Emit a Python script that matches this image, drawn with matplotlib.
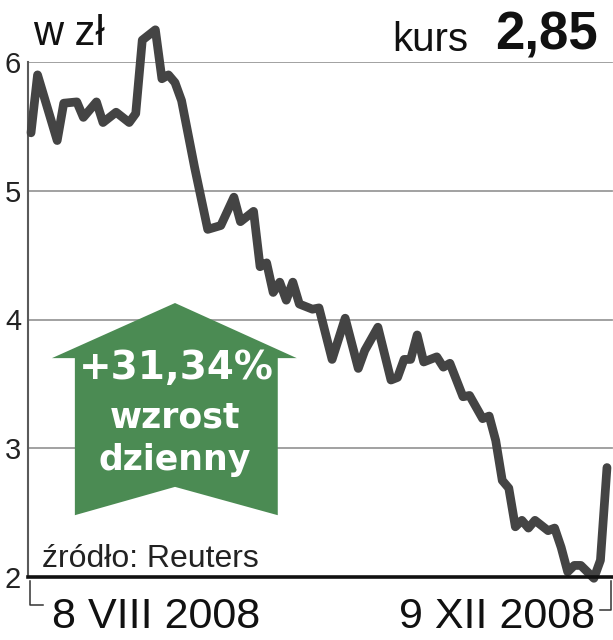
#!/usr/bin/env python3
"""
Kurs akcji 8 VIII - 9 XII 2008, wykres liniowy z zieloną strzałką
"""
import matplotlib
matplotlib.use("Agg")
import matplotlib.pyplot as plt
from matplotlib.patches import Polygon
from matplotlib.lines import Line2D

# sesje od 8 VIII 2008 (indeks dnia) i kurs w zł
days = [0, 1, 4, 5, 7, 8, 10, 11, 13, 15, 16, 17, 19, 20, 21, 22, 23, 25,
        27, 29, 31, 32, 34, 35, 36, 37, 38, 39, 40, 41, 43, 44, 46, 48, 50,
        51, 53, 55, 56, 57, 58, 59, 60, 62, 63, 64, 66, 67, 69, 70, 71, 72,
        73, 74, 75, 76, 77, 79, 80, 81, 82, 83, 84, 86, 87, 88]
price = [5.45, 5.90, 5.39, 5.68, 5.69, 5.57, 5.69, 5.53, 5.61, 5.53, 5.60,
         6.17, 6.25, 5.87, 5.90, 5.84, 5.70, 5.18, 4.70, 4.73, 4.95, 4.76,
         4.84, 4.41, 4.44, 4.21, 4.29, 4.15, 4.29, 4.12, 4.08, 4.09, 3.69,
         4.01, 3.62, 3.76, 3.94, 3.53, 3.55, 3.69, 3.69, 3.88, 3.67, 3.71,
         3.63, 3.66, 3.40, 3.41, 3.23, 3.25, 3.06, 2.75, 2.69, 2.39, 2.44,
         2.38, 2.44, 2.36, 2.38, 2.23, 2.04, 2.09, 2.09, 1.99, 2.13, 2.85]

y_ticks = [2, 3, 4, 5, 6]
y_tick_labels = ["2", "3", "4", "5", "6"]
start_label = "8 VIII 2008"
end_label = "9 XII 2008"
last_price = "2,85"
change_label = "+31,34%"

W, H = 613, 640
LINE = "#444444"
GREEN = "#4b8b53"
GRID = "#9a9a9a"
FONT = "Liberation Sans"


def px(x, y):
    """pixel (from top-left) -> figure fraction"""
    return x / W, 1 - y / H


fig = plt.figure(figsize=(W / 100, H / 100), dpi=100)
ax = fig.add_axes([28 / W, (H - 577) / H, 585 / W, 515 / H])
ax.set_xlim(-0.46, 88.92)
ax.set_ylim(2, 6)

for side in ["top", "right"]:
    ax.spines[side].set_visible(False)
ax.spines["left"].set_color("#5a5a5a")
ax.spines["left"].set_linewidth(1.5)
ax.spines["bottom"].set_color("#111111")
ax.spines["bottom"].set_linewidth(2.6)
ax.spines["bottom"].set_zorder(4)

for v in y_ticks[1:]:
    ax.axhline(v, xmin=0, xmax=584 / 585, color=GRID, lw=1.3, zorder=1)

ax.set_xticks([])
ax.set_yticks(y_ticks)
ax.set_yticklabels(y_tick_labels, fontfamily=FONT, fontsize=21, color="#222222")
ax.tick_params(axis="y", length=0, pad=5)

# strzałka
arrow = [(22.0, 4.128), (40.6, 3.70), (37.7, 3.70), (37.7, 2.48),
         (22.0, 2.70), (6.7, 2.48), (6.7, 3.70), (3.2, 3.70)]
ax.add_patch(Polygon(arrow, closed=True, facecolor=GREEN, edgecolor="none",
                     zorder=2))

ax.plot(days, price, color=LINE, lw=6.3, solid_joinstyle="round",
        solid_capstyle="round", zorder=3, clip_on=False)

# teksty
fig.text(*px(33, 45), "w zł", fontfamily=FONT, fontsize=30, color="#111111",
         va="baseline")
fig.text(*px(468, 51), "kurs", fontfamily=FONT, fontsize=29, color="#111111",
         ha="right", va="baseline")
fig.text(*px(598, 50), last_price, fontfamily=FONT, fontsize=38,
         fontweight="bold", color="#111111", ha="right", va="baseline")

fig.text(*px(176, 379), change_label, fontfamily="DejaVu Sans", fontsize=28,
         fontweight="bold", color="white", ha="center", va="baseline")
fig.text(*px(175, 427), "wzrost", fontfamily="DejaVu Sans", fontsize=25,
         fontweight="bold", color="white", ha="center", va="baseline")
fig.text(*px(175, 470), "dzienny", fontfamily="DejaVu Sans", fontsize=25,
         fontweight="bold", color="white", ha="center", va="baseline")

fig.text(*px(42, 567), "źródło: Reuters", fontfamily=FONT, fontsize=23,
         color="#222222", va="baseline")
fig.text(*px(52, 628), start_label, fontfamily=FONT, fontsize=31,
         color="#111111", va="baseline")
fig.text(*px(595, 628), end_label, fontfamily=FONT, fontsize=31,
         color="#111111", ha="right", va="baseline")

# nawiasy dat
for pts in ([(30, 581), (30, 605), (43, 605)], [(611, 581), (611, 610), (600, 610)]):
    xs = [px(x, y)[0] for x, y in pts]
    ys = [px(x, y)[1] for x, y in pts]
    fig.add_artist(Line2D(xs, ys, color="#333333", lw=1.1))

fig.savefig("out.png", dpi=100)
